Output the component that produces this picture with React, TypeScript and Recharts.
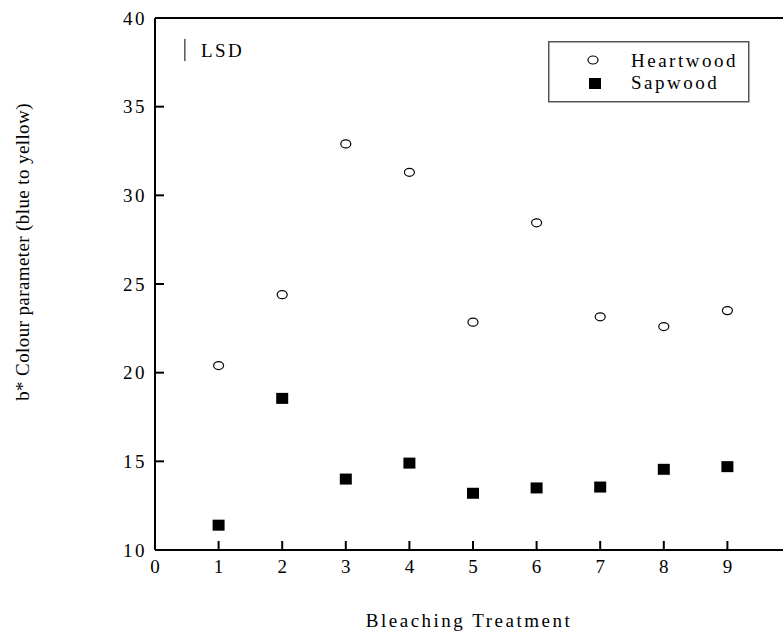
import React from 'react';
import { ScatterChart, Scatter, XAxis, YAxis, ReferenceLine, Legend } from 'recharts';

const treatments = [1, 2, 3, 4, 5, 6, 7, 8, 9];
const heartwood = [20.4, 24.4, 32.9, 31.3, 22.85, 28.45, 23.15, 22.6, 23.5];
const sapwood = [11.4, 18.55, 14.0, 14.9, 13.2, 13.5, 13.55, 14.55, 14.7];
const xTicks = [0, 1, 2, 3, 4, 5, 6, 7, 8, 9];
const yTicks = [10, 15, 20, 25, 30, 35, 40];
const lsdX = 0.47;
const lsdLow = 37.57;
const lsdHigh = 38.82;

const heartData = treatments.map((t, i) => ({ x: t, y: heartwood[i] }));
const sapData = treatments.map((t, i) => ({ x: t, y: sapwood[i] }));

const FONT = 'Liberation Serif, Times New Roman, serif';
const FS = 19;
const LS = 2.5;
const txt = (size: number, ls: number) => ({ fontFamily: FONT, fontSize: size, letterSpacing: ls });

const XTick = (props: any) => {
  const { x, y, payload } = props;
  return (
    <g>
      <line x1={x} x2={x} y1={y} y2={y - 9} stroke="#000" strokeWidth={2} />
      <text x={x + LS / 2} y={y + 23} textAnchor="middle" style={txt(FS, LS)} fill="#000">
        {payload.value}
      </text>
    </g>
  );
};

const YTick = (props: any) => {
  const { x, y, payload } = props;
  return (
    <g>
      <line x1={x} x2={x + 9} y1={y} y2={y} stroke="#000" strokeWidth={2} />
      <text x={x - 8} y={y + 6.5} textAnchor="end" style={txt(FS, LS)} fill="#000">
        {payload.value}
      </text>
    </g>
  );
};

const Circle = (props: any) => {
  const { cx, cy } = props;
  return <ellipse cx={cx} cy={cy} rx={5} ry={4} fill="#fff" stroke="#000" strokeWidth={1.2} />;
};

const Square = (props: any) => {
  const { cx, cy } = props;
  return <rect x={cx - 6} y={cy - 5.5} width={12} height={11} fill="#000" />;
};

const LegendBox = () => (
  <svg width={202} height={62} style={{ display: 'block' }}>
    <rect x={0.75} y={0.75} width={200} height={60} fill="#fff" stroke="#555" strokeWidth={1.5} />
    <ellipse cx={45} cy={19} rx={5} ry={4} fill="#fff" stroke="#000" strokeWidth={1.2} />
    <rect x={41} y={37} width={12} height={11} fill="#000" />
    <text x={83} y={26} style={txt(FS, LS)} fill="#000">Heartwood</text>
    <text x={83} y={48} style={txt(FS, LS)} fill="#000">Sapwood</text>
  </svg>
);

const YLabel = () => {
  const cx = 22;
  const cy = 252;
  return (
    <text x={cx} y={cy} transform={`rotate(-90 ${cx} ${cy})`} textAnchor="middle" dominantBaseline="central" style={txt(19, 0.4)} fill="#000">
      b* Colour parameter (blue to yellow)
    </text>
  );
};

const XLabel = (props: any) => {
  const vb = props.viewBox || {};
  const cx = (vb.x ?? 155) + 314;
  return (
    <text x={cx} y={627} textAnchor="middle" style={txt(FS, LS)} fill="#000">
      Bleaching Treatment
    </text>
  );
};

const LsdLabel = (props: any) => {
  const vb = props.viewBox || {};
  return (
    <text x={(vb.x ?? 185) + 16} y={(vb.y ?? 40) + (vb.height ?? 22) / 2 + 7} style={txt(FS, LS)} fill="#000">
      LSD
    </text>
  );
};

export default function App() {
  return (
    <div style={{ position: 'absolute', left: 0, top: 0, width: 783, height: 633, overflow: 'hidden', background: '#fff', fontFamily: FONT }}>
      <ScatterChart width={800} height={633} margin={{ top: 18, right: 9, bottom: 53, left: 95 }}>
        <XAxis
          type="number"
          dataKey="x"
          domain={[0, 10]}
          ticks={xTicks}
          allowDataOverflow
          height={30}
          tickSize={0}
          tickMargin={0}
          tickLine={false}
          tick={<XTick />}
          axisLine={{ stroke: '#000', strokeWidth: 2 }}
          interval={0}
          label={<XLabel />}
        />
        <YAxis
          type="number"
          dataKey="y"
          domain={[10, 40]}
          ticks={yTicks}
          allowDataOverflow
          width={60}
          tickSize={0}
          tickMargin={0}
          tickLine={false}
          tick={<YTick />}
          axisLine={{ stroke: '#000', strokeWidth: 2 }}
          interval={0}
          label={<YLabel />}
        />
        <ReferenceLine y={40} stroke="#000" strokeWidth={2} />
        <ReferenceLine
          segment={[{ x: lsdX, y: lsdLow }, { x: lsdX, y: lsdHigh }]}
          stroke="#000"
          strokeWidth={1}
          label={<LsdLabel />}
        />
        <Legend
          layout="horizontal"
          verticalAlign="middle"
          align="center"
          content={() => <LegendBox />}
          wrapperStyle={{ position: 'absolute', left: 548, top: 41, width: 202, height: 62, margin: 0 }}
        />
        <Scatter name="Heartwood" data={heartData} shape={<Circle />} isAnimationActive={false} />
        <Scatter name="Sapwood" data={sapData} shape={<Square />} isAnimationActive={false} />
      </ScatterChart>
    </div>
  );
}
